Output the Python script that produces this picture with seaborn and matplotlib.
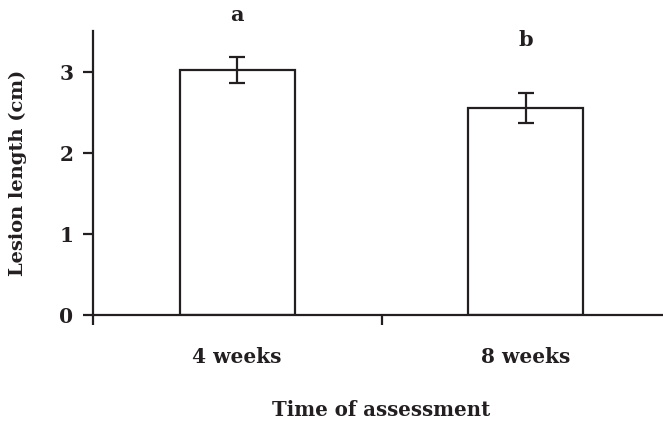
import matplotlib
matplotlib.use("Agg")
import matplotlib.pyplot as plt
import seaborn as sns
import pandas as pd
from matplotlib.ticker import FixedLocator

categories = ["4 weeks", "8 weeks"]
means = [3.02, 2.55]
errors = [0.155, 0.18]
letters = ["a", "b"]
letter_y = [3.70, 3.39]
yticks = [0, 1, 2, 3]

sns.set_theme(style="ticks")
plt.rcParams['font.family'] = ['DejaVu Serif']
plt.rcParams['font.weight'] = 'bold'

df = pd.DataFrame({"time": categories, "length": means})

fig = plt.figure(figsize=(6.63, 4.23), dpi=100)
ax = fig.add_axes([93/663, 108/423, 577/663, 284/423])

sns.barplot(data=df, x="time", y="length", ax=ax, color="white",
            edgecolor="#231f20", linewidth=1.6, width=0.40, errorbar=None)
ax.errorbar(range(len(categories)), means, yerr=errors, fmt="none",
            ecolor="#231f20", elinewidth=1.6, capsize=6, capthick=1.6)

for i, (lab, ly) in enumerate(zip(letters, letter_y)):
    ax.text(i, ly, lab, ha="center", va="center", fontsize=15,
            fontweight="bold", color="#231f20")

ax.set_xlim(-0.5, 1.5)
ax.set_ylim(0, 3.5)
ax.set_yticks(yticks)
ax.set_yticklabels([str(t) for t in yticks], fontsize=14.5, fontweight="bold", color="#231f20")
ax.tick_params(axis="y", direction="out", length=7, width=1.6, color="#231f20", pad=7)

ax.set_xticks(range(len(categories)))
ax.set_xticklabels(categories, fontsize=14.5, fontweight="bold", color="#231f20")
ax.tick_params(axis="x", which="major", length=0, pad=23)
ax.xaxis.set_minor_locator(FixedLocator([-0.5, 0.5, 1.5]))
ax.tick_params(axis="x", which="minor", direction="out", length=7, width=1.6, color="#231f20")

ax.set_xlabel("Time of assessment", fontsize=14.2, fontweight="bold", color="#231f20", labelpad=24)
ax.set_ylabel("Lesion length (cm)", fontsize=14, fontweight="bold", color="#231f20", labelpad=23)

for s in ["top", "right"]:
    ax.spines[s].set_visible(False)
for s in ["left", "bottom"]:
    ax.spines[s].set_linewidth(1.6)
    ax.spines[s].set_color("#231f20")

fig.savefig("out.png", dpi=100)
